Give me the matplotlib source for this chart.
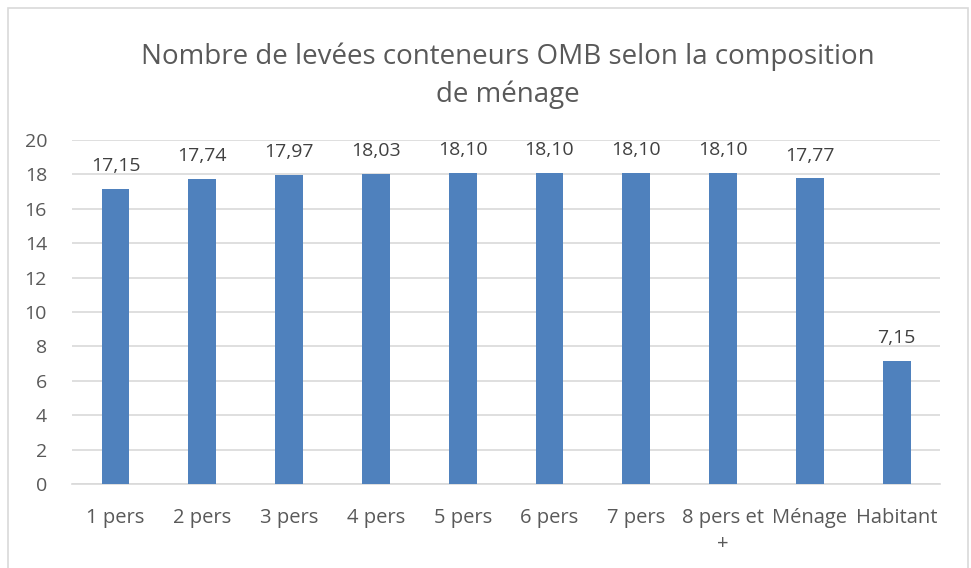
import matplotlib.pyplot as plt
import matplotlib.patches as patches

plt.rcParams['font.family'] = ['Open Sans', 'DejaVu Sans']

categories = ['1 pers', '2 pers', '3 pers', '4 pers', '5 pers', '6 pers',
              '7 pers', '8 pers et\n+', 'Ménage', 'Habitant']
values = [17.15, 17.74, 17.97, 18.03, 18.10, 18.10, 18.10, 18.10, 17.77, 7.15]
value_labels = ['17,15', '17,74', '17,97', '18,03', '18,10', '18,10',
                '18,10', '18,10', '17,77', '7,15']
yticks = [0, 2, 4, 6, 8, 10, 12, 14, 16, 18, 20]

text_color = '#595959'
bar_color = '#4f81bd'
grid_color = '#d9d9d9'

fig = plt.figure(figsize=(9.71, 5.68), dpi=100)
ax = fig.add_axes([0.0742, 0.148, 0.894, 0.6056])

# chart frame
fig.patches.append(patches.Rectangle((8 / 971, -0.01), 960 / 971, 1 - 8 / 568 + 0.01,
                                     transform=fig.transFigure, fill=False,
                                     ec='#d9d9d9', lw=1.2))

x = range(len(categories))
bars = ax.bar(x, values, width=0.32, color=bar_color, zorder=3)

for xi, v, lab in zip(x, values, value_labels):
    ax.text(xi, v + 0.8, lab, ha='center', va='bottom', fontsize=14,
            color='#404040')

ax.set_xlim(-0.5, len(categories) - 0.5)
ax.set_ylim(0, 20)
ax.set_yticks(yticks)
ax.set_xticks(list(x))
ax.set_xticklabels(categories, fontsize=14.5, color=text_color, va='top',
                   linespacing=1.45)
ax.tick_params(axis='y', labelsize=14, labelcolor=text_color, length=0, pad=18)
ax.tick_params(axis='x', length=0, pad=17)
ax.yaxis.grid(True, color=grid_color, lw=1.2, zorder=0)
for s in ['top', 'right', 'left']:
    ax.spines[s].set_visible(False)
ax.spines['bottom'].set_color(grid_color)
ax.spines['bottom'].set_linewidth(1.2)

fig.text(0.523, 0.866, 'Nombre de levées conteneurs OMB selon la composition\nde ménage',
         ha='center', va='center', fontsize=20, color=text_color, linespacing=1.45)

fig.savefig('out.png', dpi=100)
